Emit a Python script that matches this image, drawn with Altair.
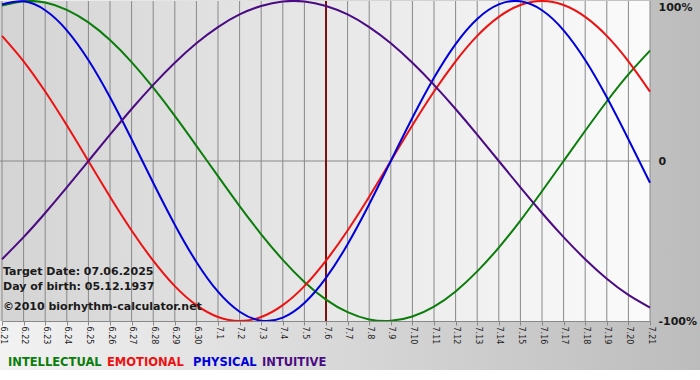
import altair as alt
import pandas as pd

dates = ["6.21", "6.22", "6.23", "6.24", "6.25", "6.26", "6.27", "6.28", "6.29", "6.30",
         "7.1", "7.2", "7.3", "7.4", "7.5", "7.6", "7.7", "7.8", "7.9", "7.10",
         "7.11", "7.12", "7.13", "7.14", "7.15", "7.16", "7.17", "7.18", "7.19", "7.20", "7.21"]

intellectual = [97.2, 99.9, 99.0, 94.5, 86.6, 75.6, 61.8, 45.8, 28.2, 9.5, -9.5, -28.2, -45.8,
                -61.8, -75.6, -86.6, -94.5, -99.0, -99.9, -97.2, -91.0, -81.5, -69.0, -54.1,
                -37.2, -18.9, 0.0, 18.9, 37.2, 54.1, 69.0]
emotional = [78.2, 62.3, 43.4, 22.3, 0.0, -22.3, -43.4, -62.3, -78.2, -90.1, -97.5, -100.0,
             -97.5, -90.1, -78.2, -62.3, -43.4, -22.3, 0.0, 22.3, 43.4, 62.3, 78.2, 90.1, 97.5,
             100.0, 97.5, 90.1, 78.2, 62.3, 43.4]
physical = [97.9, 99.8, 94.2, 81.7, 63.1, 39.8, 13.6, -13.6, -39.8, -63.1, -81.7, -94.2, -99.8,
            -97.9, -88.8, -73.1, -52.0, -27.0, 0.0, 27.0, 52.0, 73.1, 88.8, 97.9, 99.8, 94.2,
            81.7, 63.1, 39.8, 13.6, -13.6]
intuitive = [-61.4, -47.6, -32.5, -16.5, 0.0, 16.5, 32.5, 47.6, 61.4, 73.6, 83.7, 91.6, 96.9,
             99.7, 99.7, 96.9, 91.6, 83.7, 73.6, 61.4, 47.6, 32.5, 16.5, 0.0, -16.5, -32.5,
             -47.6, -61.4, -73.6, -83.7, -91.6]

series_names = ["INTELLECTUAL", "EMOTIONAL", "PHYSICAL", "INTUITIVE"]
series_colors = ["#0a7d0a", "#ee1111", "#0000dd", "#4b0b82"]
target_label = "7.6"
info_lines = ["Target Date: 07.06.2025", "Day of birth: 05.12.1937", "\u00a92010 biorhythm-calculator.net"]

rows = []
for name, vals in zip(series_names, [intellectual, emotional, physical, intuitive]):
    for i, v in enumerate(vals):
        rows.append({"d": i, "date": dates[i], "series": name, "value": v})
df = pd.DataFrame(rows)
days = pd.DataFrame({"d": list(range(len(dates)))})
target = pd.DataFrame({"d": [dates.index(target_label)]})
one = pd.DataFrame({"a": [0]})

label_array = "[" + ",".join("'" + s + "'" for s in dates) + "]"

xscale = alt.Scale(domain=[0, len(dates) - 1], nice=False, zero=False)
yscale = alt.Scale(domain=[-100, 100], nice=False)

W, H = 648, 320

bg_outer = alt.Chart(one).mark_rect(
    color=alt.LinearGradient(gradient="linear",
                             stops=[alt.GradientStop(color="#f2f2f2", offset=0),
                                    alt.GradientStop(color="#bcbcbc", offset=1)],
                             x1=0, x2=1, y1=0, y2=0)
).encode(x=alt.value(-2), x2=alt.value(698), y=alt.value(-1), y2=alt.value(369))

bg_plot = alt.Chart(one).mark_rect(
    color=alt.LinearGradient(gradient="linear",
                             stops=[alt.GradientStop(color="#d4d4d4", offset=0),
                                    alt.GradientStop(color="#fbfbfb", offset=1)],
                             x1=0, x2=1, y1=0, y2=0)
).encode(x=alt.value(-2), x2=alt.value(W), y=alt.value(0), y2=alt.value(H))

xaxis = alt.Axis(values=list(range(len(dates))), labelExpr=label_array + "[datum.value]",
                 labelAngle=90, labelAlign="left", labelBaseline="middle",
                 labelFont="DejaVu Sans", labelFontSize=8, labelColor="#222222",
                 labelPadding=1, tickSize=4, tickColor="#888888",
                 domainColor="#888888", grid=False, zindex=1, labelOverlap=False,
                 labelBound=False, labelFlush=False)

grid = alt.Chart(days).mark_rule(color="#888888", strokeWidth=1).encode(
    x=alt.X("d:Q", scale=xscale, title=None, axis=xaxis)
)

zero = alt.Chart(one).mark_rule(color="#888888", strokeWidth=1).encode(
    y=alt.datum(0, scale=yscale), x=alt.value(-2), x2=alt.value(W)
)

tline = alt.Chart(target).mark_rule(color="#7a1010", strokeWidth=2).encode(
    x=alt.X("d:Q", scale=xscale, title=None, axis=xaxis)
)

lines = alt.Chart(df).mark_line(strokeWidth=2, interpolate="natural").encode(
    x=alt.X("d:Q", scale=xscale, title=None, axis=xaxis),
    y=alt.Y("value:Q", scale=yscale, title=None,
            axis=alt.Axis(orient="right", values=[-100, 0, 100],
                          labelExpr="datum.value == 0 ? '0' : datum.value + '%'",
                          labelFont="DejaVu Sans", labelFontWeight="bold", labelFontSize=11,
                          labelColor="#1a1a1a", labelPadding=8, ticks=False, domain=False,
                          grid=False, zindex=1, labelFlush=False,
                          labelBaseline={"condition": {"test": "datum.value == 100", "value": "top"},
                                         "value": "middle"})),
    color=alt.Color("series:N", scale=alt.Scale(domain=series_names, range=series_colors), legend=None),
    detail="series:N",
)

info_y = [274, 289, 309]
info_layers = []
for txt, yy in zip(info_lines, info_y):
    info_layers.append(
        alt.Chart(pd.DataFrame({"t": [txt]})).mark_text(
            align="left", baseline="alphabetic", font="DejaVu Sans", fontWeight="bold",
            fontSize=11, color="#1a1a1a"
        ).encode(text="t:N", x=alt.value(1), y=alt.value(yy))
    )

legend_x = [6, 105, 191, 260]
legend_layers = []
for name, col, xx in zip(series_names, series_colors, legend_x):
    legend_layers.append(
        alt.Chart(pd.DataFrame({"t": [name]})).mark_text(
            align="left", baseline="alphabetic", font="DejaVu Sans", fontWeight="bold",
            fontSize=11.5, color=col
        ).encode(text="t:N", x=alt.value(xx), y=alt.value(365))
    )

chart = alt.layer(bg_outer, bg_plot, grid, zero, tline, lines, *info_layers, *legend_layers).properties(
    width=W, height=H,
    autosize=alt.AutoSizeParams(type="none"),
    padding={"left": 2, "top": 1, "right": 50, "bottom": 59},
    background="white",
).configure_view(strokeWidth=0)

chart.save("out.html", embed_options={"renderer": "svg", "actions": False})
